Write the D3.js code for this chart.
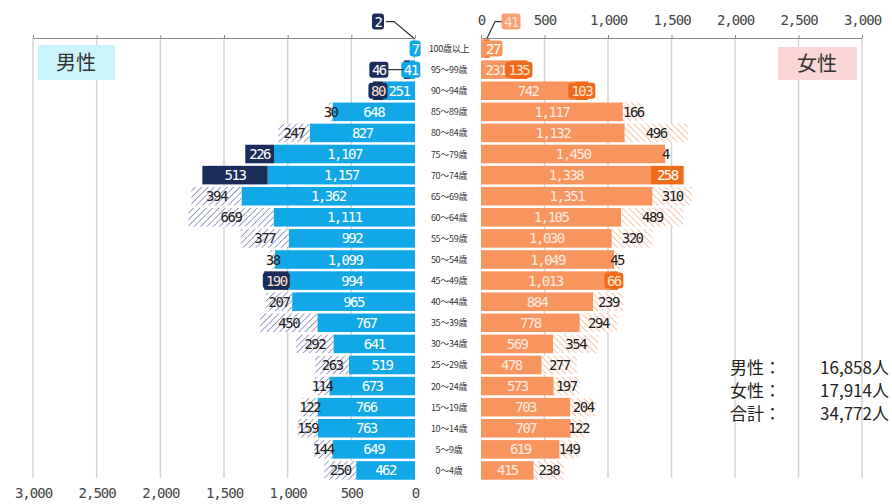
<!DOCTYPE html>
<html>
<head>
<meta charset="utf-8">
<script src="https://cdn.jsdelivr.net/npm/d3@7"></script>
<style>
  body { margin: 0; background: #fff; }
  svg { font-family: "Noto Sans CJK JP", "Noto Sans", sans-serif; }
</style>
</head>
<body>
<div id="chart"></div>
<script>
// 年齢階級（上から）
var ages = ["100歳以上","95～99歳","90～94歳","85～89歳","80～84歳","75～79歳","70～74歳",
  "65～69歳","60～64歳","55～59歳","50～54歳","45～49歳","40～44歳","35～39歳",
  "30～34歳","25～29歳","20～24歳","15～19歳","10～14歳","5～9歳","0～4歳"];

// 男性：基準部分と増減（+ 増加, - 減少）
var maleBase   = [7,41,251,648,827,1107,1157,1362,1111,992,1099,994,965,767,641,519,673,766,763,649,462];
var maleChange = [2,46,80,-30,-247,226,513,-394,-669,-377,-38,190,-207,-450,-292,-263,-114,-122,-159,-144,-250];

// 女性
var femaleBase   = [27,231,742,1117,1132,1450,1338,1351,1105,1030,1049,1013,884,778,569,478,573,703,707,619,415];
var femaleChange = [41,135,103,-166,-496,-4,258,-310,-489,-320,-45,66,-239,-294,-354,-277,-197,-204,-122,-149,-238];

var axisTicks = [0,500,1000,1500,2000,2500,3000];
var totalLabels = ["男性：","女性：","合計："];
var totalValues = ["16,858人","17,914人","34,772人"];

var W = 892, H = 504,
    plotTop = 38, plotBottom = 481

var svg = d3.select("#chart").append("svg")
    .attr("width", W).attr("height", H)

var defs = svg.append("defs")
function hatch(id, color, dir) {
  var p = defs.append("pattern").attr("id", id)
      .attr("patternUnits","userSpaceOnUse").attr("width",4.5).attr("height",4.5)
      .attr("patternTransform","rotate(" + dir + ")")
  p.append("rect").attr("width",4.5).attr("height",4.5).attr("fill","#fff")
  p.append("line").attr("x1",0).attr("y1",0).attr("x2",0).attr("y2",4.5)
      .attr("stroke",color).attr("stroke-width",1.6)
}
hatch("hM", "#8088b8", 45)
hatch("hF", "#f4b894", -45)

var y = d3.scaleBand().domain(ages).range([plotTop, plotBottom]).paddingInner(0.12).paddingOuter(0.06)
var xm = d3.scaleLinear().domain([0,3000]).range([415, 33])
var xf = d3.scaleLinear().domain([0,3000]).range([481, 862])

// grid
svg.selectAll("line.gm").data(axisTicks.slice(1)).enter().append("line")
    .attr("x1", d => xm(d)).attr("x2", d => xm(d))
    .attr("y1", plotTop).attr("y2", 478)
    .attr("stroke","#d4d4d4").attr("stroke-width",1.5)
svg.selectAll("line.gf").data(axisTicks.slice(1)).enter().append("line")
    .attr("x1", d => xf(d)).attr("x2", d => xf(d))
    .attr("y1", plotTop).attr("y2", 478)
    .attr("stroke","#d4d4d4").attr("stroke-width",1.5)

// axes
svg.append("g").attr("transform","translate(0," + plotTop + ")")
    .call(d3.axisTop(xm).tickValues(axisTicks).tickFormat("").tickSizeInner(3).tickSizeOuter(0))
var axMb = svg.append("g").attr("transform","translate(0,485)")
    .call(d3.axisBottom(xm).tickValues(axisTicks).tickFormat(d3.format(",")).tickSize(0))
axMb.select(".domain").remove()
svg.append("g").attr("transform","translate(0," + plotTop + ")")
    .call(d3.axisTop(xf).tickValues(axisTicks).tickFormat(d3.format(",")).tickSizeInner(3).tickSizeOuter(0).tickPadding(10))
svg.selectAll(".domain").attr("stroke","#8a8a8a")
svg.selectAll(".tick line").attr("stroke","#8a8a8a")
svg.selectAll(".tick text").attr("font-size",14).attr("fill","#444")
    .attr("font-family","'DejaVu Sans Mono', monospace").attr("letter-spacing","-1px")

// rows
function rowsFor(base, change, x, side) {
  return ages.map(function(a, i) {
    return { age: a, base: base[i], change: change[i], x: x, side: side }
  })
}
var rows = rowsFor(maleBase, maleChange, xm, "m").concat(rowsFor(femaleBase, femaleChange, xf, "f"))

var col = {
  m: { base: "#12a7e6", up: "#1c2c5a", down: "url(#hM)" },
  f: { base: "#f8955f", up: "#f06a1c", down: "url(#hF)" }
}

function span(x, a, b) {
  var p = x(a), q = x(b)
  return [Math.min(p, q), Math.abs(q - p)]
}

var g = svg.append("g")
rows.forEach(function(d) {
  var yy = y(d.age), bh = y.bandwidth()
  var s = span(d.x, 0, d.base)
  g.append("rect").attr("x", s[0]).attr("y", yy).attr("width", s[1]).attr("height", bh)
      .attr("fill", col[d.side].base)
  var c = Math.abs(d.change)
  var s2 = span(d.x, d.base, d.base + c)
  g.append("rect").attr("x", s2[0]).attr("y", yy).attr("width", s2[1]).attr("height", bh)
      .attr("fill", d.change > 0 ? col[d.side].up : col[d.side].down)
})

// callouts for tiny segments (label offset from the segment)
var callouts = [
  { side: "m", age: "100歳以上", dx: -36, dy: -27, bend: true },
  { side: "m", age: "95～99歳", dx: -28, dy: 0, bend: false },
  { side: "f", age: "100歳以上", dx: 24, dy: -27, bend: true }
]

var fmt = d3.format(",")
var lab = svg.append("g").attr("font-size", 14).attr("text-anchor","middle")
    .attr("font-family","'DejaVu Sans Mono', monospace").attr("letter-spacing","-1.5px")

function boxLabel(cx, cy, txt, fill, tcol, minW) {
  var w = Math.max(minW, txt.length * 8 + 3)
  lab.append("rect").attr("x", cx - w / 2).attr("y", cy - 8).attr("width", w).attr("height", 16)
      .attr("rx", 3).attr("fill", fill)
  lab.append("text").attr("x", cx).attr("y", cy + 5).attr("fill", tcol).text(txt)
}

rows.forEach(function(d) {
  var cy = y(d.age) + y.bandwidth() / 2
  var s = span(d.x, 0, d.base)
  var t = fmt(d.base)
  if (s[1] > t.length * 8 + 4) {
    lab.append("text").attr("x", s[0] + s[1] / 2).attr("y", cy + 5).attr("fill","#fff")
        .attr("opacity", d.side == "f" ? 0.8 : 1).text(t)
  } else {
    var cx0 = d.side == "m" ? d.x(d.base) + 1 : d.x(0) + 12
    boxLabel(cx0, cy, t, col[d.side].base, "#fff", 8)
  }
  var c = Math.abs(d.change)
  var s2 = span(d.x, d.base, d.base + c)
  var cx = s2[0] + s2[1] / 2
  var tc = fmt(c)
  if (d.change > 0) {
    var co = callouts.find(k => k.side == d.side && k.age == d.age)
    if (co) {
      var lx = cx + co.dx, ly = cy + co.dy
      var dirn = co.dx < 0 ? 1 : -1
      var path = co.bend
          ? [[cx, y(d.age) - 1], [lx + dirn * 16, ly], [lx + dirn * 8, ly]]
          : [[s2[0] + (d.side == "m" ? 0 : s2[1]), cy], [lx + dirn * 8, ly]]
      lab.append("path").attr("d", d3.line()(path)).attr("fill","none")
          .attr("stroke","#333").attr("stroke-width",1.2)
      boxLabel(lx, ly, tc, d.side == "m" ? col.m.up : "#f7a070", d.side == "m" ? "#fff" : "#fde3cf", 12)
    } else if (s2[1] > tc.length * 8 + 4) {
      lab.append("text").attr("x", cx).attr("y", cy + 5).attr("fill","#fff").text(tc)
    } else {
      boxLabel(cx, cy, tc, col[d.side].up, "#fde3cf", s2[1])
    }
  } else {
    lab.append("text").attr("x", cx).attr("y", cy + 5).attr("fill","#222").text(tc)
  }
})

// age labels
svg.append("g").selectAll("text").data(ages).enter().append("text")
    .attr("x", 449).attr("y", d => y(d) + y.bandwidth() / 2 + 3.5)
    .attr("text-anchor","middle").attr("font-size", 9).attr("fill","#333")
    .attr("letter-spacing","-0.3px")
    .text(d => d)

// sex labels
svg.append("rect").attr("x",38).attr("y",45).attr("width",77).attr("height",35).attr("fill","#c9f5fa")
svg.append("text").attr("x",76).attr("y",70).attr("text-anchor","middle").attr("font-size",20)
    .attr("fill","#333").text("男性")
svg.append("rect").attr("x",778).attr("y",47).attr("width",79).attr("height",33).attr("fill","#fbd6d6")
svg.append("text").attr("x",817).attr("y",71).attr("text-anchor","middle").attr("font-size",20)
    .attr("fill","#333").text("女性")

// totals
var tot = svg.append("g").attr("font-size",17).attr("fill","#222")
totalLabels.forEach(function(t, i) {
  tot.append("text").attr("x", 730).attr("y", 374 + i * 23).text(t)
  tot.append("text").attr("x", 889).attr("y", 374 + i * 23).attr("text-anchor","end").text(totalValues[i])
})
</script>
</body>
</html>
